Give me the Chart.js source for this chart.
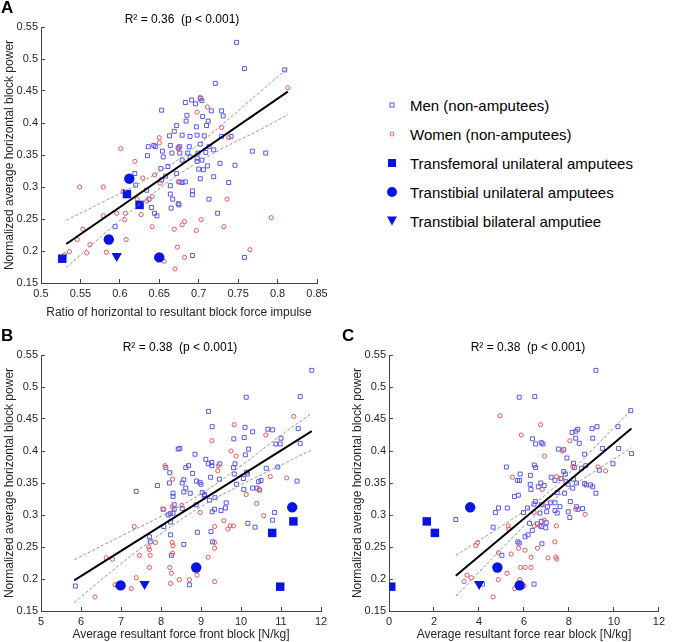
<!DOCTYPE html>
<html>
<head>
<meta charset="utf-8">
<script src="https://cdn.jsdelivr.net/npm/chart.js@4.4.0/dist/chart.umd.min.js"></script>
<style>
    body { margin: 0; background: #fff; font-family: "Liberation Sans", Arial, sans-serif; }
    #wrap { position: relative; width: 673px; height: 642px; overflow: hidden; }
    canvas { position: absolute; }
    .letter { position: absolute; font-weight: bold; font-size: 17px; color: #000; }
    .title { position: absolute; font-size: 12px; color: #000; white-space: pre; transform: translate(-50%, -50%); }
    .row { position: absolute; font-size: 15px; color: #000; white-space: nowrap; transform: translateY(-50%); }
    .mk { position: absolute; transform: translate(-50%, -50%); box-sizing: border-box; }
</style>
</head>
<body>
<div id="wrap">
    <canvas id="chartA" width="340" height="320" style="left:0;top:0"></canvas>
    <canvas id="chartB" width="340" height="322" style="left:0;top:320px"></canvas>
    <canvas id="chartC" width="333" height="322" style="left:340px;top:320px"></canvas>

    <div class="letter" style="left:1px;top:-2px">A</div>
    <div class="letter" style="left:1px;top:326px">B</div>
    <div class="letter" style="left:342px;top:326px">C</div>

    <div class="title" style="left:182px;top:19px">R² = 0.36  (p &lt; 0.001)</div>
    <div class="title" style="left:180px;top:347px">R² = 0.38  (p &lt; 0.001)</div>
    <div class="title" style="left:528px;top:347px">R² = 0.38  (p &lt; 0.001)</div>

    <div id="legend"></div>
</div>

<script>
// Tick values
const powerTicks = [0.15, 0.2, 0.25, 0.3, 0.35, 0.4, 0.45, 0.5, 0.55];
const ratioTicks = [0.5, 0.55, 0.6, 0.65, 0.7, 0.75, 0.8, 0.85];
const frontTicks = [5, 6, 7, 8, 9, 10, 11, 12];
const rearTicks = [0, 2, 4, 6, 8, 10, 12];

const legendLabels = [
    'Men (non-amputees)',
    'Women (non-amputees)',
    'Transfemoral unilateral amputees',
    'Transtibial unilateral amputees',
    'Transtibial bilateral amputiee'
];

// Panel A: ratio of horizontal to resultant impulse vs power
const menA = [[0.748,0.526],[0.758,0.485],[0.809,0.483],[0.721,0.462],[0.653,0.420],[0.683,0.432],[0.691,0.436],[0.696,0.430],[0.702,0.438],[0.704,0.435],[0.729,0.419],[0.716,0.419],[0.685,0.412],[0.705,0.410],[0.672,0.396],[0.684,0.403],[0.697,0.394],[0.712,0.403],[0.731,0.411],[0.710,0.396],[0.663,0.380],[0.669,0.387],[0.679,0.381],[0.698,0.381],[0.707,0.380],[0.689,0.379],[0.729,0.379],[0.741,0.379],[0.636,0.363],[0.643,0.365],[0.645,0.363],[0.664,0.365],[0.674,0.361],[0.676,0.363],[0.688,0.363],[0.702,0.367],[0.713,0.363],[0.654,0.356],[0.666,0.353],[0.676,0.353],[0.686,0.353],[0.689,0.347],[0.699,0.353],[0.698,0.345],[0.709,0.354],[0.719,0.358],[0.768,0.356],[0.785,0.353],[0.655,0.347],[0.679,0.342],[0.704,0.342],[0.698,0.340],[0.635,0.349],[0.746,0.334],[0.727,0.337],[0.711,0.333],[0.706,0.327],[0.700,0.328],[0.652,0.329],[0.619,0.321],[0.620,0.303],[0.658,0.317],[0.672,0.321],[0.661,0.332],[0.676,0.308],[0.679,0.307],[0.683,0.308],[0.702,0.313],[0.719,0.316],[0.653,0.311],[0.664,0.302],[0.692,0.294],[0.692,0.288],[0.664,0.289],[0.667,0.281],[0.713,0.281],[0.634,0.295],[0.637,0.281],[0.640,0.268],[0.665,0.267],[0.674,0.274],[0.675,0.272],[0.724,0.259],[0.644,0.259],[0.647,0.255],[0.594,0.238],[0.738,0.307],[0.692,0.193],[0.758,0.190]];
const womenA = [[0.813,0.455],[0.702,0.440],[0.711,0.425],[0.698,0.417],[0.729,0.393],[0.738,0.377],[0.650,0.377],[0.650,0.369],[0.601,0.360],[0.674,0.360],[0.619,0.340],[0.644,0.319],[0.629,0.314],[0.651,0.306],[0.674,0.308],[0.549,0.300],[0.579,0.300],[0.604,0.293],[0.622,0.281],[0.634,0.278],[0.641,0.285],[0.627,0.257],[0.607,0.259],[0.596,0.259],[0.579,0.255],[0.606,0.249],[0.641,0.238],[0.669,0.234],[0.682,0.246],[0.679,0.241],[0.697,0.232],[0.703,0.249],[0.732,0.238],[0.736,0.281],[0.792,0.252],[0.553,0.234],[0.562,0.210],[0.546,0.218],[0.608,0.218],[0.536,0.199],[0.558,0.197],[0.583,0.198],[0.673,0.206],[0.682,0.190],[0.656,0.184],[0.670,0.172],[0.765,0.202],[0.530,0.194]];
const femoralA = [[0.527,0.188],[0.609,0.289],[0.625,0.272]];
const tibialA = [[0.612,0.313],[0.586,0.218],[0.650,0.190]];
const bilateralA = [[0.596,0.192]];
const fitA = [[0.532,0.211],[0.813,0.449]];
const upperA = [[0.532,0.248],[0.58,0.2775],[0.63,0.3096],[0.68,0.348],[0.73,0.398],[0.78,0.451],[0.813,0.486]];
const lowerA = [[0.532,0.174],[0.58,0.2265],[0.63,0.278],[0.68,0.324],[0.73,0.360],[0.78,0.391],[0.813,0.413]];

// Panel B: average resultant force front block vs power
const menB = [[11.77,0.526],[10.13,0.484],[11.48,0.485],[9.19,0.462],[9.28,0.438],[10.10,0.437],[10.29,0.430],[10.67,0.434],[10.79,0.433],[9.82,0.419],[10.08,0.421],[11.00,0.420],[11.43,0.435],[11.48,0.412],[10.98,0.411],[10.87,0.411],[10.19,0.403],[10.11,0.394],[8.47,0.404],[8.43,0.403],[8.85,0.395],[8.69,0.377],[8.62,0.374],[8.12,0.374],[7.91,0.346],[7.38,0.337],[8.22,0.366],[8.79,0.365],[8.89,0.353],[8.97,0.351],[9.00,0.348],[9.12,0.387],[9.18,0.380],[9.27,0.382],[9.27,0.377],[9.47,0.380],[9.24,0.359],[9.46,0.356],[9.81,0.374],[9.83,0.364],[9.85,0.380],[9.89,0.348],[10.06,0.357],[10.14,0.367],[10.16,0.364],[10.07,0.340],[10.29,0.342],[10.40,0.342],[10.46,0.339],[10.44,0.352],[10.50,0.354],[10.63,0.373],[10.92,0.375],[11.40,0.353],[8.53,0.350],[8.57,0.355],[8.57,0.336],[8.30,0.334],[8.30,0.329],[8.21,0.350],[8.62,0.342],[8.73,0.334],[9.09,0.332],[9.03,0.335],[9.35,0.327],[9.21,0.323],[9.08,0.330],[9.63,0.319],[8.88,0.316],[8.53,0.310],[8.33,0.309],[8.30,0.303],[8.23,0.302],[8.18,0.300],[8.33,0.316],[8.05,0.309],[9.34,0.309],[9.28,0.305],[9.50,0.307],[9.61,0.311],[8.07,0.282],[8.24,0.289],[8.24,0.269],[10.35,0.281],[10.17,0.287],[10.79,0.292],[10.84,0.304],[8.91,0.273],[9.25,0.274],[9.29,0.258],[8.57,0.254],[7.71,0.266],[7.73,0.258],[8.26,0.237],[5.86,0.189],[8.71,0.191]];
const womenB = [[11.32,0.454],[9.83,0.441],[9.27,0.416],[10.62,0.425],[9.75,0.400],[9.88,0.392],[9.43,0.377],[9.42,0.369],[8.10,0.377],[8.29,0.356],[10.73,0.360],[11.14,0.358],[10.46,0.340],[10.13,0.332],[8.52,0.315],[8.28,0.313],[8.07,0.309],[8.98,0.304],[10.39,0.318],[10.57,0.299],[9.57,0.291],[9.34,0.282],[9.67,0.278],[9.73,0.283],[9.81,0.283],[7.33,0.282],[8.28,0.257],[8.30,0.252],[8.29,0.240],[7.69,0.250],[7.71,0.246],[7.73,0.237],[7.46,0.237],[7.86,0.257],[9.34,0.257],[9.34,0.248],[9.18,0.234],[6.63,0.233],[6.79,0.231],[7.71,0.218],[8.22,0.218],[8.26,0.209],[8.46,0.199],[8.71,0.199],[8.90,0.206],[8.24,0.193],[7.38,0.202],[7.26,0.185],[6.85,0.191],[6.35,0.172],[9.34,0.196]];
const femoralB = [[11.31,0.290],[10.78,0.272],[10.98,0.188]];
const tibialB = [[11.28,0.312],[8.88,0.218],[6.99,0.190]];
const bilateralB = [[7.59,0.192]];
const fitB = [[5.83,0.198],[11.77,0.431]];
const upperB = [[5.83,0.230],[7,0.267],[8,0.298],[9,0.333],[10,0.377],[11,0.4245],[11.77,0.459]];
const lowerB = [[5.83,0.163],[7,0.224],[8,0.271],[9,0.313],[10,0.347],[11,0.378],[11.77,0.402]];

// Panel C: average resultant force rear block vs power
const menC = [[9.20,0.526],[5.79,0.484],[6.48,0.485],[10.75,0.463],[10.18,0.438],[9.25,0.438],[9.03,0.435],[8.39,0.434],[8.31,0.431],[8.14,0.429],[9.06,0.420],[8.30,0.420],[6.77,0.413],[6.84,0.411],[6.52,0.411],[6.38,0.419],[8.46,0.412],[7.53,0.403],[7.77,0.402],[9.49,0.404],[10.21,0.404],[10.78,0.396],[8.70,0.395],[7.91,0.389],[5.22,0.375],[6.46,0.378],[6.52,0.374],[7.77,0.368],[7.84,0.364],[8.20,0.381],[8.24,0.374],[8.56,0.373],[8.75,0.377],[9.96,0.380],[9.35,0.370],[7.21,0.359],[6.29,0.362],[5.83,0.364],[5.80,0.354],[5.72,0.354],[6.28,0.348],[6.75,0.350],[7.38,0.354],[7.64,0.357],[7.87,0.352],[7.96,0.348],[8.34,0.350],[8.70,0.349],[8.77,0.347],[8.96,0.347],[9.06,0.344],[9.20,0.334],[8.17,0.342],[7.81,0.334],[8.20,0.356],[5.75,0.331],[5.58,0.329],[6.31,0.340],[6.64,0.344],[6.90,0.346],[7.48,0.335],[7.17,0.319],[7.38,0.319],[6.51,0.321],[6.45,0.317],[6.77,0.316],[7.05,0.313],[7.38,0.307],[7.48,0.303],[7.60,0.313],[8.06,0.321],[8.34,0.313],[8.41,0.309],[8.61,0.310],[8.04,0.296],[7.97,0.305],[7.01,0.305],[6.71,0.303],[5.98,0.304],[6.16,0.311],[5.26,0.311],[4.73,0.304],[4.87,0.311],[2.97,0.293],[4.63,0.281],[5.02,0.237],[6.25,0.287],[6.18,0.269],[6.05,0.266],[5.73,0.258],[5.79,0.256],[6.77,0.282],[6.97,0.280],[6.99,0.288],[6.77,0.290],[6.37,0.276],[6.80,0.255],[6.60,0.286],[4.16,0.192],[6.45,0.192]];
const womenC = [[4.93,0.455],[6.74,0.441],[5.88,0.425],[8.04,0.416],[6.92,0.392],[7.70,0.400],[9.30,0.375],[9.63,0.369],[5.49,0.359],[7.45,0.360],[7.68,0.357],[6.81,0.340],[8.17,0.376],[6.84,0.316],[6.45,0.304],[6.90,0.292],[6.70,0.283],[8.30,0.309],[8.72,0.301],[5.30,0.283],[5.33,0.278],[6.47,0.283],[7.44,0.283],[3.94,0.257],[3.86,0.252],[7.37,0.258],[5.76,0.248],[6.05,0.245],[6.60,0.248],[4.87,0.241],[5.43,0.239],[6.32,0.234],[7.07,0.233],[7.42,0.234],[7.46,0.231],[5.85,0.218],[6.05,0.218],[6.31,0.218],[5.25,0.209],[3.47,0.206],[3.66,0.202],[3.34,0.196],[4.86,0.199],[5.81,0.199],[5.59,0.185],[4.63,0.172],[6.01,0.189]];
const femoralC = [[0.10,0.188],[1.68,0.290],[2.04,0.272]];
const tibialC = [[3.61,0.312],[4.82,0.218],[5.81,0.190]];
const bilateralC = [[4.01,0.192]];
const fitC = [[2.97,0.205],[10.78,0.435]];
const upperC = [[2.97,0.237],[4,0.260],[5,0.2825],[6,0.306],[7,0.3327],[8,0.3649],[9,0.4003],[10,0.4366],[10.78,0.464]];
const lowerC = [[2.97,0.173],[4,0.2107],[5,0.2471],[6,0.2824],[7,0.3147],[8,0.3413],[9,0.3649],[10,0.3874],[10.78,0.405]];

const MEN_COLOR = '#5858e2';
const WOMEN_COLOR = '#e05858';
const AMP_COLOR = '#0a14e0';
const AXIS_COLOR = '#444444';
const TEXT_COLOR = '#262626';

function pts(arr) {
    return arr.map(p => ({ x: p[0], y: p[1] }));
}

function lineSet(arr, dashed) {
    return {
        data: pts(arr),
        showLine: true,
        pointRadius: 0,
        borderColor: dashed ? '#8a8a8a' : '#000000',
        borderWidth: dashed ? 0.9 : 2,
        borderDash: dashed ? [3, 2] : [],
        tension: dashed ? 0.4 : 0,
        fill: false
    };
}

function markerSet(arr, style, radius, color, filled, rotation) {
    return {
        data: pts(arr),
        pointStyle: style,
        pointRadius: radius,
        pointRotation: rotation || 0,
        borderColor: color,
        borderWidth: filled ? 0 : 1,
        backgroundColor: filled ? color : 'rgba(0,0,0,0)',
        showLine: false
    };
}

function makeChart(id, groups, xTicks, xTitle, padLeft, padRight, padTop) {
    const ctx = document.getElementById(id);
    return new Chart(ctx, {
        type: 'scatter',
        data: {
            datasets: [
                lineSet(groups.fit, false),
                lineSet(groups.upper, true),
                lineSet(groups.lower, true),
                markerSet(groups.bilateral, 'triangle', 6, AMP_COLOR, true, 180),
                markerSet(groups.tibial, 'circle', 5.2, AMP_COLOR, true),
                markerSet(groups.femoral, 'rect', 6, AMP_COLOR, true),
                markerSet(groups.women, 'circle', 2.1, WOMEN_COLOR, false),
                markerSet(groups.men, 'rect', 2.8, MEN_COLOR, false)
            ]
        },
        options: {
            responsive: false,
            animation: false,
            devicePixelRatio: 1,
            layout: {
                padding: { left: padLeft, right: padRight, top: padTop, bottom: 0 }
            },
            plugins: {
                legend: { display: false },
                tooltip: { enabled: false }
            },
            scales: {
                x: {
                    type: 'linear',
                    min: xTicks[0],
                    max: xTicks[xTicks.length - 1],
                    afterBuildTicks: function(axis) {
                        axis.ticks = xTicks.map(v => ({ value: v }));
                    },
                    afterFit: function(axis) {
                        axis.height = groups.xHeight;
                    },
                    grid: {
                        drawOnChartArea: false,
                        drawTicks: true,
                        tickLength: -4,
                        tickColor: AXIS_COLOR
                    },
                    border: { display: true, color: AXIS_COLOR, width: 1 },
                    ticks: {
                        padding: 8,
                        color: TEXT_COLOR,
                        maxRotation: 0,
                        font: { family: 'Liberation Sans', size: 11 },
                        callback: function(value) {
                            return String(value);
                        }
                    },
                    title: {
                        display: true,
                        text: xTitle,
                        color: TEXT_COLOR,
                        font: { family: 'Liberation Sans', size: 12 },
                        padding: { top: groups.xTitlePad, bottom: 0 }
                    }
                },
                y: {
                    type: 'linear',
                    min: 0.15,
                    max: 0.55,
                    afterBuildTicks: function(axis) {
                        axis.ticks = powerTicks.map(v => ({ value: v }));
                    },
                    afterFit: function(axis) {
                        axis.width = 41;
                    },
                    grid: {
                        drawOnChartArea: false,
                        drawTicks: true,
                        tickLength: -4,
                        tickColor: AXIS_COLOR
                    },
                    border: { display: true, color: AXIS_COLOR, width: 1 },
                    ticks: {
                        padding: 7,
                        color: TEXT_COLOR,
                        font: { family: 'Liberation Sans', size: 11 },
                        callback: function(value) {
                            return String(value);
                        }
                    },
                    title: {
                        display: true,
                        text: 'Normalized average horizontal block power',
                        color: TEXT_COLOR,
                        font: { family: 'Liberation Sans', size: 12 },
                        padding: { top: 2, bottom: 0 }
                    }
                }
            }
        }
    });
}

makeChart('chartA', {
    men: menA, women: womenA, femoral: femoralA, tibial: tibialA, bilateral: bilateralA,
    fit: fitA, upper: upperA, lower: lowerA, xHeight: 37, xTitlePad: 3
}, ratioTicks, 'Ratio of horizontal to resultant block force impulse', 0, 23, 27);

makeChart('chartB', {
    men: menB, women: womenB, femoral: femoralB, tibial: tibialB, bilateral: bilateralB,
    fit: fitB, upper: upperB, lower: lowerB, xHeight: 31, xTitlePad: 0
}, frontTicks, 'Average resultant force front block [N/kg]', 0, 19, 35);

makeChart('chartC', {
    men: menC, women: womenC, femoral: femoralC, tibial: tibialC, bilateral: bilateralC,
    fit: fitC, upper: upperC, lower: lowerC, xHeight: 31, xTitlePad: 0
}, rearTicks, 'Average resultant force rear block [N/kg]', 8, 5, 35);

// Legend built from the label list
const legendEl = document.getElementById('legend');
const legendMarkers = [
    'width:5px;height:5px;border:1px solid ' + MEN_COLOR,
    'width:5px;height:5px;border:1px solid ' + WOMEN_COLOR + ';border-radius:50%',
    'width:8px;height:8px;background:' + AMP_COLOR,
    'width:10px;height:10px;border-radius:50%;background:' + AMP_COLOR,
    'width:0;height:0;border-left:5px solid transparent;border-right:5px solid transparent;border-top:9px solid ' + AMP_COLOR
];
legendLabels.forEach(function(label, i) {
    const y = 105 + i * 29;
    const mk = document.createElement('div');
    mk.className = 'mk';
    mk.style.cssText = 'left:392px;top:' + y + 'px;' + legendMarkers[i];
    legendEl.appendChild(mk);
    const row = document.createElement('div');
    row.className = 'row';
    row.style.left = '410px';
    row.style.top = y + 'px';
    row.textContent = label;
    legendEl.appendChild(row);
});
</script>
</body>
</html>
